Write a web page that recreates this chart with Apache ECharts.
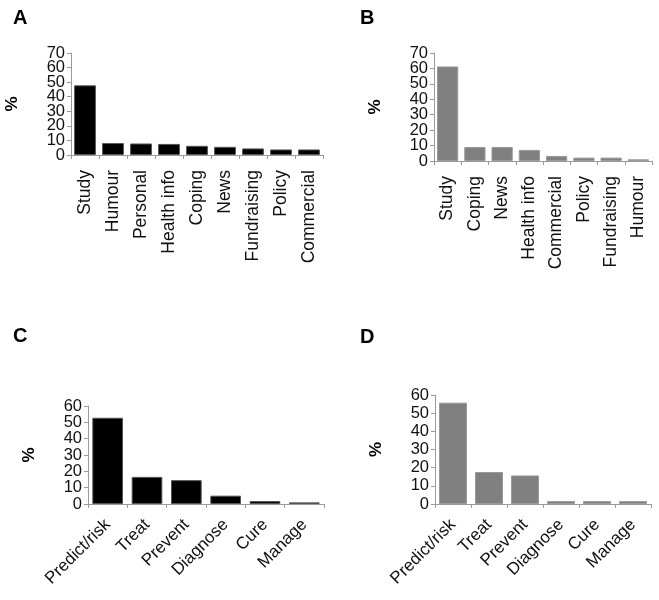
<!DOCTYPE html>
<html>
<head>
<meta charset="utf-8">
<script src="https://cdn.jsdelivr.net/npm/echarts@6/dist/echarts.min.js"></script>
<style>
html,body{margin:0;padding:0;background:#fff;}
#chart{width:659px;height:600px;}
</style>
</head>
<body>
<div id="chart"></div>
<script>
// Panel A
const catsA = ['Study','Humour','Personal','Health info','Coping','News','Fundraising','Policy','Commercial'];
const valsA = [47.8, 8.2, 7.9, 7.6, 6.3, 5.6, 4.5, 3.8, 3.8];
// Panel B
const catsB = ['Study','Coping','News','Health info','Commercial','Policy','Fundraising','Humour'];
const valsB = [61.3, 9.1, 9.1, 7.2, 3.3, 2.2, 2.2, 1.1];
// Panel C
const catsC = ['Predict/risk','Treat','Prevent','Diagnose','Cure','Manage'];
const valsC = [52.8, 16.6, 14.6, 5.1, 1.8, 1.0];
// Panel D
const catsD = ['Predict/risk','Treat','Prevent','Diagnose','Cure','Manage'];
const valsD = [55.8, 17.6, 15.7, 1.6, 1.6, 1.6];
// Y tick labels
const ticksAB = ['0','10','20','30','40','50','60','70'];
const ticksCD = ['0','10','20','30','40','50','60'];
const panelLetters = ['A','B','C','D'];

const FONT = 'Liberation Sans, Arial, sans-serif';
const axisColor = '#9a9a9a';

const grids = [
  {left: 71, top: 53, width: 252, height: 102},
  {left: 434, top: 53, width: 218, height: 108},
  {left: 88, top: 406, width: 236, height: 98},
  {left: 435, top: 395, width: 216, height: 109}
];
const cats = [catsA, catsB, catsC, catsD];
const vals = [valsA, valsB, valsC, valsD];
const tickLabels = [ticksAB, ticksAB, ticksCD, ticksCD];
const rotates = [90, 90, 45, 45];
const colors = ['#000000', '#808080', '#000000', '#808080'];

// value axes (draw bars, line, ticks, name)
const valueAxes = grids.map((g, i) => ({
  type: 'value',
  gridIndex: i,
  min: 0,
  max: Number(tickLabels[i][tickLabels[i].length - 1]),
  interval: 10,
  name: '%',
  nameLocation: 'middle',
  nameRotate: 90,
  nameGap: 50,
  nameTextStyle: {fontFamily: FONT, fontSize: 17, fontWeight: 'bold', color: '#000'},
  axisLine: {show: true, lineStyle: {color: axisColor, width: 1}},
  axisTick: {show: true, length: 4, lineStyle: {color: axisColor}},
  axisLabel: {show: false},
  splitLine: {show: false}
}));
// label axes (tick labels, all shown)
const labelAxes = grids.map((g, i) => ({
  type: 'category',
  gridIndex: i,
  position: 'left',
  data: tickLabels[i],
  boundaryGap: false,
  axisLine: {show: false},
  axisTick: {show: false},
  splitLine: {show: false},
  axisLabel: {interval: 0, margin: 6, fontFamily: FONT, fontSize: 16.5, color: '#111'}
}));

const chart = echarts.init(document.getElementById('chart'));
const option = {
  animation: false,
  backgroundColor: '#fff',
  title: [
    {text: panelLetters[0], left: 8, top: 3},
    {text: panelLetters[1], left: 355, top: 3},
    {text: panelLetters[2], left: 8, top: 321},
    {text: panelLetters[3], left: 355, top: 322}
  ].map(t => Object.assign(t, {textStyle: {fontFamily: FONT, fontSize: 20, fontWeight: 'bold', color: '#000'}})),
  grid: grids,
  xAxis: grids.map((g, i) => ({
    type: 'category',
    gridIndex: i,
    data: cats[i],
    boundaryGap: true,
    axisLine: {lineStyle: {color: axisColor, width: 1}},
    axisTick: {show: true, length: 4, lineStyle: {color: axisColor}},
    axisLabel: {
      rotate: rotates[i],
      interval: 0,
      margin: rotates[i] === 90 ? 15 : 18,
      fontFamily: FONT,
      fontSize: rotates[i] === 90 ? 17.5 : 17,
      color: '#111'
    },
    splitLine: {show: false}
  })),
  yAxis: valueAxes.concat(labelAxes),
  series: grids.map((g, i) => ({
    type: 'bar',
    xAxisIndex: i,
    yAxisIndex: i,
    data: vals[i],
    barCategoryGap: '22%',
    itemStyle: {color: colors[i], borderColor: i % 2 === 0 ? '#555' : '#9a9a9a', borderWidth: 1}
  }))
};
chart.setOption(option);
</script>
</body>
</html>
